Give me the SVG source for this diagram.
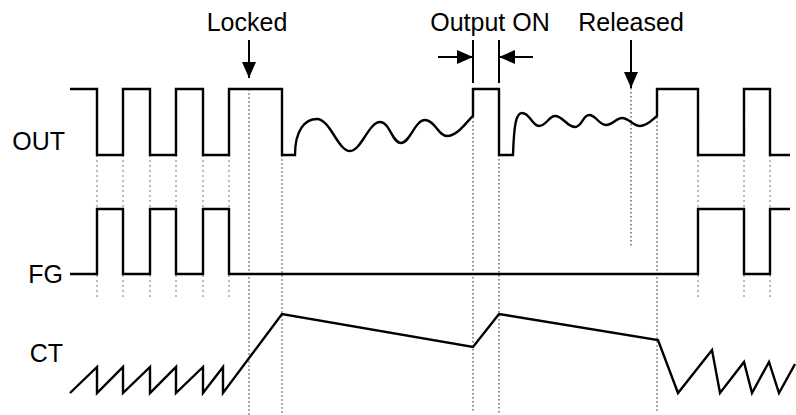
<svg xmlns="http://www.w3.org/2000/svg" width="796" height="415" viewBox="0 0 796 415">
<style>
.bg{fill:#ffffff}
.sig{fill:none;stroke:#000;stroke-width:2.4;stroke-linejoin:miter}
.lbl{font-family:"Liberation Sans",Arial,sans-serif;font-size:25px;fill:#000}
.grid{stroke:#777;stroke-width:1;stroke-dasharray:2 3;fill:none}
.gridm{stroke:#999;stroke-width:1.6;stroke-dasharray:2 2;fill:none}
.gridk{stroke:#222;stroke-width:1;stroke-dasharray:1.5 2.5;fill:none}
.arr{stroke:#000;stroke-width:2;fill:none}
</style>
<defs>
<marker id="ah" markerUnits="userSpaceOnUse" markerWidth="16" markerHeight="14" refX="16" refY="7" orient="auto">
<path d="M0,0 L16,7 L0,14 z" fill="#000"/>
</marker>
</defs>
<rect class="bg" x="0" y="0" width="796" height="415"/>
<g id="gridlines">
<path class="grid" d="M97,155V300M123,155V300M150,155V300M176,155V300M203,155V300M229,155V300M698,155V300M744,155V300M770,155V300"/>
<path class="gridm" d="M249,89V415M282,155V415M657,117V413"/>
<path class="gridk" d="M473,117V413M499,155V413M631,88V248"/>
</g>
<g id="OUT">
<text class="lbl" x="65" y="150" text-anchor="end">OUT</text>
<path class="sig" d="M70,89H97V155H123V89H150V155H176V89H203V155H229V89H282V155H295C295,130 305,119 317,119C330,119 338,151 350,151C361,151 369,122 380,122C390,122 392,143 401,143C410,143 415,120 425,120C435,120 438,136 447,136C458,136 467,121 473,116V89H499V155H513C514,125 516,113 522,113C530,113 532,126 539,126C546,126 549,116 555,116C563,116 567,127 575,127C582,127 583,115 589,115C596,115 599,125 606,125C613,125 616,118 622,118C629,118 633,126 640,126C647,126 652,120 657,116V89H698V155H744V89H770V155H790"/>
</g>
<g id="FG">
<text class="lbl" x="63" y="283" text-anchor="end">FG</text>
<path class="sig" d="M70,274H97V209H123V274H150V209H176V274H203V209H229V274H698V209H744V274H770V209H790"/>
</g>
<g id="CT">
<text class="lbl" x="63" y="362" text-anchor="end">CT</text>
<path class="sig" d="M70,393L97,367V393L123,367V393L150,367V393L176,367V393L203,367V393L223,367V393L282,314L473,347L499,314L658,340L678,393L712,350L720,393L744,362L752,393L769,362L779,393L795,364"/>
</g>
<g id="Locked">
<text class="lbl" x="247" y="31" text-anchor="middle">Locked</text>
</g>
<g id="OutputON">
<text class="lbl" x="490" y="31" text-anchor="middle">Output ON</text>
<path class="arr" d="M473,40V83M499,40V83"/>
</g>
<g id="Released">
<text class="lbl" x="631" y="31" text-anchor="middle">Released</text>
</g>
<g id="connectors">
<line class="arr" x1="249" y1="40" x2="249" y2="78" marker-end="url(#ah)"/>
<line class="arr" x1="631" y1="40" x2="631" y2="88" marker-end="url(#ah)"/>
<line class="arr" x1="438" y1="57" x2="473" y2="57" marker-end="url(#ah)"/>
<line class="arr" x1="533" y1="57" x2="499" y2="57" marker-end="url(#ah)"/>
</g>
</svg>
